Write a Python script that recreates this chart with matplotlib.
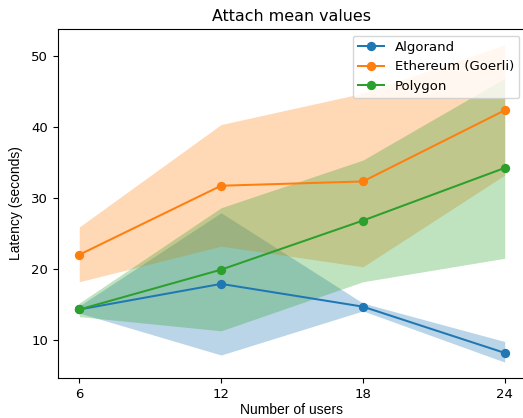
import matplotlib
matplotlib.use("Agg")
import matplotlib.pyplot as plt

users = [6, 12, 18, 24]

algorand_mean = [14.3, 17.9, 14.7, 8.2]
algorand_low = [13.8, 7.9, 14.1, 6.9]
algorand_high = [14.8, 27.9, 15.2, 9.8]

ethereum_mean = [22.0, 31.7, 32.3, 42.3]
ethereum_low = [18.2, 23.2, 20.3, 33.2]
ethereum_high = [25.9, 40.3, 44.7, 51.5]

polygon_mean = [14.3, 19.9, 26.8, 34.2]
polygon_low = [13.3, 11.3, 18.2, 21.5]
polygon_high = [15.2, 28.6, 35.3, 46.8]

fig = plt.figure(figsize=(5.23, 4.18), dpi=100)
ax = fig.add_axes([58 / 523, 40 / 418, 468 / 523, 349 / 418])

series = [
    ("Algorand", algorand_mean, algorand_low, algorand_high, "C0"),
    ("Ethereum (Goerli)", ethereum_mean, ethereum_low, ethereum_high, "C1"),
    ("Polygon", polygon_mean, polygon_low, polygon_high, "C2"),
]
for name, mean, low, high, color in series:
    ax.plot(users, mean, marker="o", color=color, label=name, markersize=5.7, linewidth=1.45)
    ax.fill_between(users, low, high, color=color, alpha=0.3, linewidth=0)

ax.set_xticks(users)
ax.tick_params(labelsize=9.5)
ax.set_title("Attach mean values", fontsize=11.4, pad=5.5)
ax.set_xlabel("Number of users", family="Liberation Sans", fontsize=10, labelpad=2)
ax.set_ylabel("Latency (seconds)", family="Liberation Sans", fontsize=10, labelpad=6)
ax.legend(loc="upper right", fontsize=9.5)

fig.savefig("out.png", dpi=100)
